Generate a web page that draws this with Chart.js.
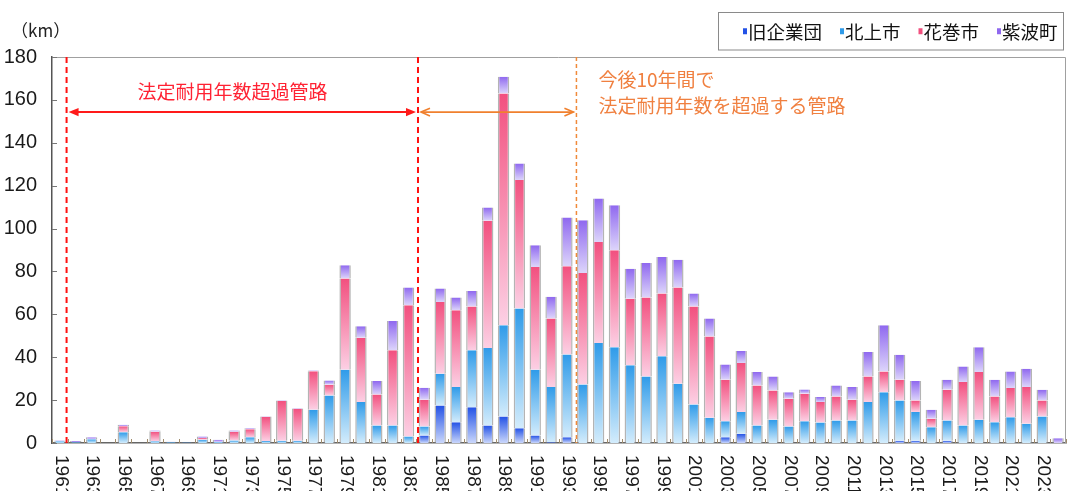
<!DOCTYPE html>
<html>
<head>
<meta charset="utf-8">
<script src="https://cdn.jsdelivr.net/npm/chart.js@4"></script>
<style>
  html, body { margin: 0; padding: 0; background: #fff; }
  canvas { display: block; }
</style>
</head>
<body>
<canvas id="pipeChart" width="1067" height="491"></canvas>
<script>
// 布設年度 1961-2024
let years = [];
for (let y = 1961; y <= 2024; y++) years.push(String(y));

let seriesNames = ['旧企業団', '北上市', '花巻市', '紫波町'];

// km
let kyuKigyodan = [0,0,0,0,0,0,0,0,0,0, 0,0,0,0,0,0,0,0,0,0, 0,0,0,3.5,17.5,9.7,16.7,8.2,12.4,6.9,
  3.5,0.3,2.7,0,0,0,0,0,0,0, 0,0,2.7,4.3,0,0,0,0,0,0, 0,0,0,1.0,1.0,0,1.0,0,0,0, 0,0,0,0];
let kitakami = [0.8,0.3,1.8,0,5.0,0,0.8,0.3,0.2,1.5, 0.5,1.2,2.7,0.9,1.0,1.0,15.5,22.2,34.2,19.1, 8.2,8.2,3.0,4.2,14.8,16.4,26.5,36.1,42.5,55.8,
  30.7,25.8,38.6,27.3,46.6,44.7,36.2,31.0,40.4,27.6, 18.0,11.8,7.5,10.1,8.2,10.8,7.7,10.2,9.6,10.5, 10.5,19.1,23.7,18.8,13.4,7.4,9.5,8.2,10.8,9.7, 12.0,9.0,12.4,0];
let hanamaki = [0,0,0,0,2.8,0,4.5,0,0,0.8, 0,4.0,3.7,11.3,18.6,15.0,18.0,5.0,42.5,30.0, 14.4,35.0,61.2,12.5,33.4,35.8,20.5,59.3,108.1,59.9,
  47.9,32.0,41.1,52.0,47.1,45.2,31.1,36.8,29.3,44.9, 45.7,37.9,19.3,22.9,18.6,13.7,12.9,12.8,9.5,11.2, 9.7,11.9,9.7,9.7,5.4,3.9,14.3,20.2,22.3,12.0, 13.6,17.1,7.4,0];
let shiwa = [0.4,0.6,0.9,0,0.7,0,0.5,0.3,0.2,0.7, 1.0,0.6,0.5,0.3,0.2,0.2,0.3,2.0,6.2,5.3, 6.3,13.7,8.3,5.6,6.3,5.9,7.2,6.2,7.8,7.7,
  10.1,10.1,22.7,24.6,20.3,21.0,14.0,16.1,17.0,13.0, 6.0,8.3,7.1,5.6,6.3,6.5,3.1,2.0,2.3,5.1, 5.9,11.4,21.5,11.7,9.1,4.2,4.7,7.3,11.6,7.8, 7.8,8.5,5.0,2.2];

let yTicks = [0, 20, 40, 60, 80, 100, 120, 140, 160, 180];

let colorsTop = ['#2352e6', '#2f9be9', '#f2507f', '#8f68ef'];
let colorsBottom = ['#c9d6fb', '#d3ecfc', '#fcd0e4', '#ddd5fb'];

let series = [kyuKigyodan, kitakami, hanamaki, shiwa];

let numFont = "'Liberation Sans Narrow', 'Liberation Sans', Arial, sans-serif";
let jpFont = "'Noto Sans CJK JP', 'Noto Sans', sans-serif";

// gradient per segment: light at its bottom, full colour at its top
function segmentColor(context, di) {
  let chart = context.chart;
  if (!chart.chartArea || context.type !== 'data') return colorsTop[di];
  let i = context.dataIndex;
  let base = 0;
  for (let k = 0; k < di; k++) base += series[k][i];
  let top = base + series[di][i];
  let ys = chart.scales.y;
  let y0 = ys.getPixelForValue(base);
  let y1 = ys.getPixelForValue(top);
  if (!(y0 - y1 > 0.5)) return colorsTop[di];
  let g = chart.ctx.createLinearGradient(0, y0, 0, y1);
  g.addColorStop(0, colorsBottom[di]);
  g.addColorStop(1, colorsTop[di]);
  return g;
}

function drawArrow(ctx, x1, x2, y, color, width, head, filled) {
  ctx.save();
  ctx.strokeStyle = color;
  ctx.fillStyle = color;
  ctx.lineWidth = width;
  ctx.beginPath();
  ctx.moveTo(x1 + (filled ? head * 0.6 : 0), y);
  ctx.lineTo(x2 - (filled ? head * 0.6 : 0), y);
  ctx.stroke();
  let h = head * 0.42;
  if (filled) {
    ctx.beginPath();
    ctx.moveTo(x1, y); ctx.lineTo(x1 + head, y - h); ctx.lineTo(x1 + head, y + h); ctx.closePath();
    ctx.moveTo(x2, y); ctx.lineTo(x2 - head, y - h); ctx.lineTo(x2 - head, y + h); ctx.closePath();
    ctx.fill();
  } else {
    ctx.beginPath();
    ctx.moveTo(x1 + head, y - h); ctx.lineTo(x1, y); ctx.lineTo(x1 + head, y + h);
    ctx.moveTo(x2 - head, y - h); ctx.lineTo(x2, y); ctx.lineTo(x2 - head, y + h);
    ctx.stroke();
  }
  ctx.restore();
}

let decorPlugin = {
  id: 'decor',
  afterDatasetsDraw(chart) {
    let ctx = chart.ctx;
    let area = chart.chartArea;
    let xs = chart.scales.x;
    let ys = chart.scales.y;

    // frame top / right
    ctx.save();
    ctx.strokeStyle = '#a0a0a0';
    ctx.lineWidth = 1;
    ctx.beginPath();
    ctx.moveTo(area.left, area.top + 0.5);
    ctx.lineTo(area.right - 0.5, area.top + 0.5);
    ctx.lineTo(area.right - 0.5, area.bottom);
    ctx.stroke();

    // inward ticks
    ctx.strokeStyle = '#777';
    ctx.beginPath();
    yTicks.forEach(v => {
      let y = Math.round(ys.getPixelForValue(v)) + 0.5;
      ctx.moveTo(area.left, y);
      ctx.lineTo(area.left + 5, y);
    });
    ctx.stroke();
    ctx.strokeStyle = '#a08c6c';
    ctx.beginPath();
    for (let i = 0; i <= years.length; i++) {
      let x = Math.round(xs.getPixelForValue(i - 0.5)) + 0.5;
      ctx.moveTo(x, area.bottom);
      ctx.lineTo(x, area.bottom - 4);
    }
    ctx.stroke();

    // dashed boundaries
    let red1 = xs.getPixelForValue(0.42);
    let red2 = xs.getPixelForValue(22.6);
    let org = xs.getPixelForValue(32.6);
    ctx.setLineDash([6, 4]);
    ctx.strokeStyle = '#ff1010';
    ctx.lineWidth = 2;
    [red1, red2].forEach(x => {
      ctx.beginPath();
      ctx.moveTo(x, area.top);
      ctx.lineTo(x, area.bottom);
      ctx.stroke();
    });
    ctx.setLineDash([4, 3]);
    ctx.strokeStyle = '#f08a3a';
    ctx.lineWidth = 1.5;
    ctx.beginPath();
    ctx.moveTo(org, area.top);
    ctx.lineTo(org, area.bottom);
    ctx.stroke();
    ctx.setLineDash([]);
    ctx.restore();

    // arrows
    let ay = ys.getPixelForValue(154.3);
    drawArrow(ctx, red1 + 2, red2 - 2, ay, '#ff1a1a', 2, 10, true);
    drawArrow(ctx, red2 + 3, org - 3, ay, '#f0802e', 1.6, 9, false);

    // annotation texts
    ctx.save();
    ctx.font = '19px ' + jpFont;
    ctx.textBaseline = 'middle';
    ctx.fillStyle = '#ff2233';
    ctx.textAlign = 'center';
    ctx.fillText('法定耐用年数超過管路', xs.getPixelForValue(10.9), ys.getPixelForValue(163.6));
    ctx.fillStyle = '#f08040';
    ctx.textAlign = 'left';
    ctx.fillText('今後10年間で', org + 22, ys.getPixelForValue(169.3));
    ctx.fillText('法定耐用年数を超過する管路', org + 22, ys.getPixelForValue(157.1));
    ctx.restore();
  },
  afterDraw(chart) {
    let ctx = chart.ctx;
    let area = chart.chartArea;
    let xs = chart.scales.x;

    // unit
    ctx.save();
    ctx.fillStyle = '#222';
    ctx.font = '17px ' + jpFont;
    ctx.textBaseline = 'middle';
    ctx.textAlign = 'left';
    ctx.fillText('（km）', area.left - 41, area.top - 26);

    // rotated year labels, every other year
    ctx.font = '19px ' + numFont;
    ctx.fillStyle = '#1a1a1a';
    years.forEach((lab, i) => {
      if (i % 2) return;
      ctx.save();
      ctx.translate(xs.getPixelForValue(i) + 1, area.bottom + 12);
      ctx.rotate(Math.PI / 2);
      ctx.textAlign = 'left';
      ctx.textBaseline = 'middle';
      ctx.fillText(lab, 0, 0);
      ctx.restore();
    });

    // legend box
    let boxL = 718, boxT = 12.5, boxR = area.right - 3, boxB = 50;
    ctx.strokeStyle = '#8a8a8a';
    ctx.lineWidth = 1;
    ctx.strokeRect(boxL + 0.5, boxT, boxR - boxL, boxB - boxT);
    ctx.font = '18.5px ' + jpFont;
    ctx.textBaseline = 'middle';
    let cy = (boxT + boxB) / 2;
    let x = boxL + 25;
    chart.data.datasets.forEach((ds, di) => {
      ctx.fillStyle = colorsTop[di];
      ctx.fillRect(x, cy - 3, 4, 6);
      ctx.fillStyle = '#111';
      ctx.fillText(ds.label, x + 5, cy + 1);
      x += 5 + ctx.measureText(ds.label).width + 18;
    });
    ctx.restore();
  }
};

let datasets = seriesNames.map((name, di) => ({
  label: name,
  data: series[di],
  backgroundColor: (c) => segmentColor(c, di),
  borderColor: 'rgba(140,140,140,0.65)',
  borderWidth: { left: 1.5, right: 1.5, top: 0, bottom: 0 },
  borderSkipped: false,
  barPercentage: 0.72,
  categoryPercentage: 1.0,
}));

let myChart = new Chart(document.getElementById('pipeChart').getContext('2d'), {
  type: 'bar',
  data: { labels: years, datasets: datasets },
  plugins: [decorPlugin],
  options: {
    responsive: false,
    animation: false,
    layout: { padding: { top: 57, right: 1, left: 0, bottom: 0 } },
    plugins: {
      legend: { display: false },
      tooltip: { enabled: false },
    },
    scales: {
      x: {
        stacked: true,
        grid: { display: false, drawTicks: false },
        border: { display: true, color: '#666', width: 1.5 },
        ticks: { display: false },
        afterFit: (scale) => { scale.height = 48; },
      },
      y: {
        stacked: true,
        min: 0,
        max: 180,
        grid: { display: false, drawTicks: false },
        border: { display: true, color: '#555', width: 1.5 },
        ticks: {
          stepSize: 20,
          padding: 15,
          color: '#1a1a1a',
          font: { family: numFont, size: 20 },
        },
        afterFit: (scale) => { scale.width = 52; },
      },
    },
  },
});
</script>
</body>
</html>
